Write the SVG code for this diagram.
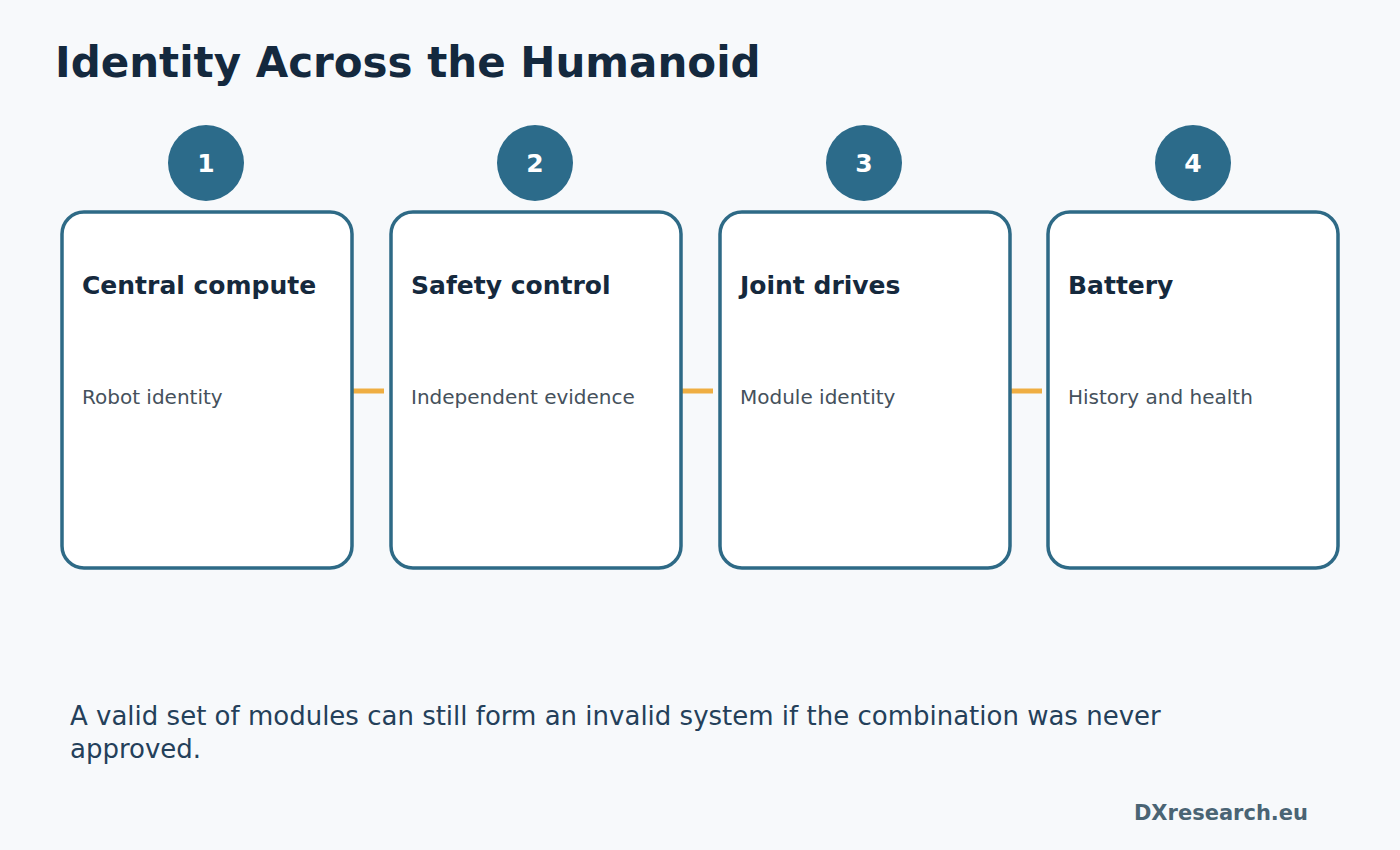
<svg xmlns="http://www.w3.org/2000/svg" width="1400" height="850" viewBox="0 0 1400 850">
<style>
text{font-family:"DejaVu Sans","Noto Sans",sans-serif}
.card{fill:#ffffff;stroke:#2e6a86;stroke-width:3.5}
.badge{fill:#2c6b8a}
.num{fill:#ffffff;font-size:25px;font-weight:bold;text-anchor:middle}
.ttl{fill:#15293d;font-size:25px;font-weight:bold}
.sub{fill:#45515c;font-size:20px}
.conn{stroke:#efae42;stroke-width:5;fill:none}
</style>
<rect width="1400" height="850" fill="#f7f9fb"/>
<text x="55" y="77" font-size="42" font-weight="bold" fill="#14293e">Identity Across the Humanoid</text>
<g id="connectors">
<line class="conn" x1="353" y1="391" x2="384" y2="391"/>
<line class="conn" x1="682" y1="391" x2="713" y2="391"/>
<line class="conn" x1="1011" y1="391" x2="1042" y2="391"/>
</g>
<g id="node1">
<circle class="badge" cx="206" cy="163" r="38"/>
<text class="num" x="206" y="172">1</text>
<rect class="card" x="62" y="212" width="290" height="356" rx="22"/>
<text class="ttl" x="82" y="294">Central compute</text>
<text class="sub" x="82" y="404">Robot identity</text>
</g>
<g id="node2">
<circle class="badge" cx="535" cy="163" r="38"/>
<text class="num" x="535" y="172">2</text>
<rect class="card" x="391" y="212" width="290" height="356" rx="22"/>
<text class="ttl" x="411" y="294">Safety control</text>
<text class="sub" x="411" y="404">Independent evidence</text>
</g>
<g id="node3">
<circle class="badge" cx="864" cy="163" r="38"/>
<text class="num" x="864" y="172">3</text>
<rect class="card" x="720" y="212" width="290" height="356" rx="22"/>
<text class="ttl" x="740" y="294">Joint drives</text>
<text class="sub" x="740" y="404">Module identity</text>
</g>
<g id="node4">
<circle class="badge" cx="1193" cy="163" r="38"/>
<text class="num" x="1193" y="172">4</text>
<rect class="card" x="1048" y="212" width="290" height="356" rx="22"/>
<text class="ttl" x="1068" y="294">Battery</text>
<text class="sub" x="1068" y="404">History and health</text>
</g>
<text x="70" y="725" font-size="26" fill="#24405a">A valid set of modules can still form an invalid system if the combination was never</text>
<text x="70" y="758" font-size="26" fill="#24405a">approved.</text>
<text x="1308" y="820" font-size="21" font-weight="bold" fill="#4a6474" text-anchor="end">DXresearch.eu</text>
</svg>
